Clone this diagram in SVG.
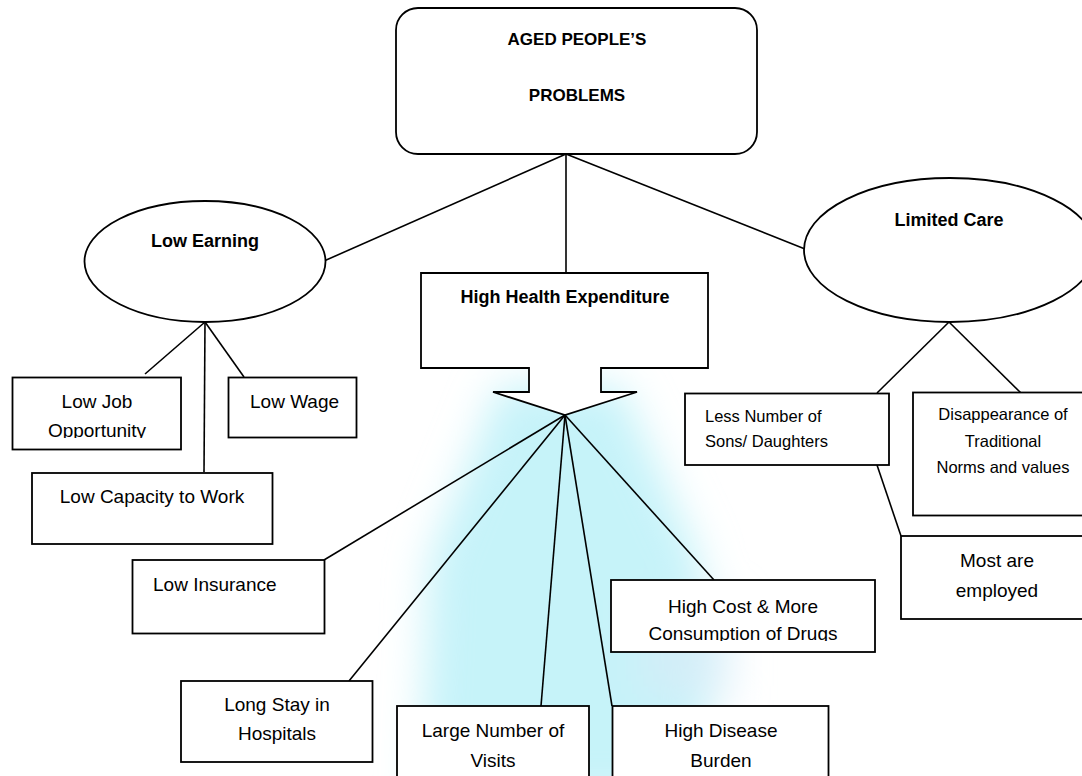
<svg xmlns="http://www.w3.org/2000/svg" width="1082" height="776" viewBox="0 0 1082 776">
  <style>
    .box { fill: #ffffff; stroke: #000000; stroke-width: 1.8; }
    .ln { stroke: #000000; stroke-width: 1.6; fill: none; }
    .t { font-family: "Liberation Sans", Arial, sans-serif; font-size: 19px; fill: #000000; }
    .ts { font-family: "Liberation Sans", Arial, sans-serif; font-size: 16.5px; fill: #000000; }
    .tb { font-family: "Liberation Sans", Arial, sans-serif; font-size: 18px; font-weight: bold; fill: #000000; }
    .mid { text-anchor: middle; }
  </style>
  <defs>
    <filter id="blur" x="-50%" y="-50%" width="200%" height="200%">
      <feGaussianBlur stdDeviation="20"/>
    </filter>
    <clipPath id="clipJob"><rect x="12" y="377" width="169" height="61"/></clipPath>
    <clipPath id="clipCost"><rect x="611" y="580" width="264" height="61"/></clipPath>
  </defs>
  <rect width="1082" height="776" fill="#ffffff"/>
  <g id="watermark" filter="url(#blur)">
    <path d="M 500 385 L 620 385 L 700 560 L 710 800 L 420 800 L 430 560 Z" fill="#c6f3f9"/>
    <path d="M 640 600 L 730 600 L 730 700 L 640 700 Z" fill="#d4ecf8" opacity="0.8"/>
  </g>

  <g id="connectors">
    <line class="ln" x1="566" y1="154" x2="324" y2="261"/>
    <line class="ln" x1="566" y1="154" x2="566" y2="272"/>
    <line class="ln" x1="566" y1="154" x2="805" y2="249"/>
    <line class="ln" x1="205" y1="322" x2="145" y2="374"/>
    <line class="ln" x1="205" y1="322" x2="204" y2="472"/>
    <line class="ln" x1="205" y1="322" x2="244" y2="377"/>
    <line class="ln" x1="565" y1="415" x2="324" y2="560"/>
    <line class="ln" x1="565" y1="415" x2="349" y2="681"/>
    <line class="ln" x1="565" y1="415" x2="541" y2="706"/>
    <line class="ln" x1="565" y1="415" x2="612" y2="706"/>
    <line class="ln" x1="565" y1="415" x2="714" y2="580"/>
    <line class="ln" x1="949" y1="322" x2="877" y2="393"/>
    <line class="ln" x1="949" y1="322" x2="1021" y2="393"/>
    <line class="ln" x1="877" y1="465" x2="901" y2="536"/>
  </g>

  <g id="aged-problems">
    <rect class="box" x="396" y="8" width="361" height="146" rx="22" ry="22"/>
    <text class="tb mid" x="577" y="45" style="font-size:17px">AGED PEOPLE’S</text>
    <text class="tb mid" x="577" y="101" style="font-size:17px">PROBLEMS</text>
  </g>

  <g id="low-earning">
    <ellipse class="box" cx="205" cy="261.5" rx="120.5" ry="60.5"/>
    <text class="tb mid" x="205" y="247">Low Earning</text>
  </g>

  <g id="high-health">
    <path class="box" d="M 421 273 L 708 273 L 708 368 L 601 368 L 601 392 L 637 392 L 565 415 L 493 392 L 529 392 L 529 368 L 421 368 Z"/>
    <text class="tb mid" x="565" y="303">High Health Expenditure</text>
  </g>

  <g id="limited-care">
    <ellipse class="box" cx="950" cy="250" rx="146" ry="72"/>
    <text class="tb mid" x="949" y="226">Limited Care</text>
  </g>

  <g id="low-job">
    <rect class="box" x="12.5" y="377.5" width="168.5" height="72"/>
    <g clip-path="url(#clipJob)">
      <text class="t mid" x="97" y="408">Low Job</text>
      <text class="t mid" x="97" y="437">Opportunity</text>
    </g>
  </g>

  <g id="low-wage">
    <rect class="box" x="228.5" y="377.5" width="128" height="60"/>
    <text class="t" x="250" y="408">Low Wage</text>
  </g>

  <g id="low-capacity">
    <rect class="box" x="32" y="473" width="240.5" height="71"/>
    <text class="t mid" x="152" y="503">Low Capacity to Work</text>
  </g>

  <g id="low-insurance">
    <rect class="box" x="132.5" y="560" width="192" height="73.5"/>
    <text class="t" x="153" y="591">Low Insurance</text>
  </g>

  <g id="long-stay">
    <rect class="box" x="181" y="681" width="191.5" height="81"/>
    <text class="t mid" x="277" y="711">Long Stay in</text>
    <text class="t mid" x="277" y="740">Hospitals</text>
  </g>

  <g id="large-number">
    <rect class="box" x="397" y="706" width="192" height="90"/>
    <text class="t mid" x="493" y="737">Large Number of</text>
    <text class="t mid" x="493" y="767">Visits</text>
  </g>

  <g id="high-disease">
    <rect class="box" x="612.5" y="706" width="216" height="90"/>
    <text class="t mid" x="721" y="737">High Disease</text>
    <text class="t mid" x="721" y="767">Burden</text>
  </g>

  <g id="high-cost">
    <rect class="box" x="611" y="580" width="264" height="72"/>
    <g clip-path="url(#clipCost)">
      <text class="t mid" x="743" y="613">High Cost &amp; More</text>
      <text class="t mid" x="743" y="640">Consumption of Drugs</text>
    </g>
  </g>

  <g id="less-number">
    <rect class="box" x="685" y="393.5" width="204" height="71.5"/>
    <text class="ts" x="705" y="422">Less Number of</text>
    <text class="ts" x="705" y="447">Sons/ Daughters</text>
  </g>

  <g id="disappearance">
    <rect class="box" x="913" y="392.5" width="180" height="123"/>
    <text class="ts mid" x="1003" y="420">Disappearance of</text>
    <text class="ts mid" x="1003" y="447">Traditional</text>
    <text class="ts mid" x="1003" y="473">Norms and values</text>
  </g>

  <g id="most-employed">
    <rect class="box" x="901" y="536" width="192" height="83"/>
    <text class="t mid" x="997" y="567">Most are</text>
    <text class="t mid" x="997" y="597">employed</text>
  </g>
</svg>
